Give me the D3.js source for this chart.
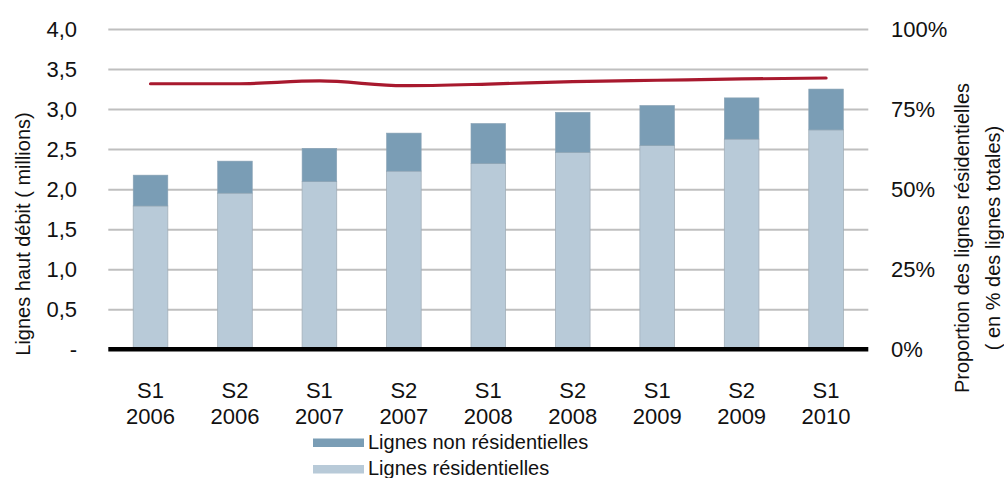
<!DOCTYPE html>
<html>
<head>
<meta charset="utf-8">
<script src="https://cdn.jsdelivr.net/npm/d3@7"></script>
<style>
    body { margin: 0; background: #fff; }
    text { font-family: "Liberation Sans", Arial, sans-serif; fill: #111; }
</style>
</head>
<body>
<script>
// data
let semesters = ["S1", "S2", "S1", "S2", "S1", "S2", "S1", "S2", "S1"];
let years = ["2006", "2006", "2007", "2007", "2008", "2008", "2009", "2009", "2010"];
let residential = [1.79, 1.95, 2.095, 2.225, 2.32, 2.46, 2.545, 2.625, 2.74];
let nonResidential = [0.385, 0.40, 0.415, 0.475, 0.50, 0.50, 0.50, 0.515, 0.51];
let residentialShare = [0.829, 0.829, 0.838, 0.823, 0.828, 0.836, 0.840, 0.844, 0.847];
let leftTicks = [0, 0.5, 1, 1.5, 2, 2.5, 3, 3.5, 4];
let rightTicks = [0, 0.25, 0.5, 0.75, 1];
let legendLabels = ["Lignes non résidentielles", "Lignes résidentielles"];

let colors = {
    light: "#b8cad8",
    dark: "#7a9db5",
    line: "#a8192e",
    grid: "#bfbfbf"
};

let svgWidth = 1004,
    svgHeight = 478,
    plot = { left: 108.3, right: 868.3, top: 29, bottom: 349.3 };

let categories = semesters.map((s, i) => s + " " + years[i]);
let svgContainer;

function init() {
    svgContainer = d3.select("body").append("svg")
        .attr("width", svgWidth)
        .attr("height", svgHeight);

    let xScale = d3.scaleBand().domain(categories)
        .range([plot.left, plot.right])
        .paddingInner(0.59)
        .paddingOuter(0.295);
    let yScale = d3.scaleLinear().domain([0, 4]).range([plot.bottom, plot.top]);
    let yRight = d3.scaleLinear().domain([0, 1]).range([plot.bottom, plot.top]);

    drawGrid(yScale);
    drawBars(xScale, yScale);
    drawShareLine(xScale, yRight);
    drawAxes(xScale, yScale, yRight);
    drawLegend();
}

function drawGrid(yScale) {
    let grid = d3.axisLeft(yScale).tickValues(leftTicks.slice(1))
        .tickSize(-(plot.right - plot.left)).tickFormat("");
    let g = svgContainer.append("g")
        .attr("transform", "translate(" + plot.right + ",0)")
        .call(d3.axisRight(yScale).tickValues(leftTicks.slice(1))
            .tickSize(-(plot.right - plot.left)).tickFormat(""));
    g.select(".domain").remove();
    g.selectAll("line").attr("stroke", colors.grid).attr("stroke-width", 2);
}

function drawBars(xScale, yScale) {
    let stacked = categories.map((c, i) => ({
        c: c,
        res: residential[i],
        total: residential[i] + nonResidential[i]
    }));

    svgContainer.append("g").selectAll("rect")
        .data(stacked).enter().append("rect")
        .attr("x", d => xScale(d.c))
        .attr("width", xScale.bandwidth())
        .attr("y", d => yScale(d.res))
        .attr("height", d => yScale(0) - yScale(d.res))
        .attr("fill", colors.light)
        .attr("stroke", "#a3afb9")
        .attr("stroke-width", 0.8);

    svgContainer.append("g").selectAll("rect")
        .data(stacked).enter().append("rect")
        .attr("x", d => xScale(d.c))
        .attr("width", xScale.bandwidth())
        .attr("y", d => yScale(d.total))
        .attr("height", d => yScale(d.res) - yScale(d.total))
        .attr("fill", colors.dark)
        .attr("stroke", "#8aa2b4")
        .attr("stroke-width", 0.6);
}

function drawShareLine(xScale, yRight) {
    let line = d3.line()
        .x((d, i) => xScale(categories[i]) + xScale.bandwidth() / 2)
        .y(d => yRight(d))
        .curve(d3.curveMonotoneX);

    svgContainer.append("path")
        .datum(residentialShare)
        .attr("d", line)
        .attr("fill", "none")
        .attr("stroke", colors.line)
        .attr("stroke-width", 3.2)
        .attr("stroke-linecap", "round");
}

function drawAxes(xScale, yScale, yRight) {
    // baseline
    svgContainer.append("line")
        .attr("x1", plot.left).attr("x2", plot.right)
        .attr("y1", yScale(0)).attr("y2", yScale(0))
        .attr("stroke", "#000").attr("stroke-width", 4.5);

    let left = svgContainer.append("g")
        .attr("transform", "translate(77,0)")
        .call(d3.axisLeft(yScale).tickValues(leftTicks).tickSize(0)
            .tickFormat(d => d === 0 ? "-" : d3.format(".1f")(d).replace(".", ",")));
    left.select(".domain").remove();
    left.selectAll("text").attr("x", 0).attr("font-size", 22)
        .style("font-family", "Liberation Sans, Arial, sans-serif").attr("fill", "#111");

    let right = svgContainer.append("g")
        .attr("transform", "translate(891,0)")
        .call(d3.axisRight(yRight).tickValues(rightTicks).tickSize(0)
            .tickFormat(d3.format(".0%")));
    right.select(".domain").remove();
    right.selectAll("text").attr("x", 0).attr("font-size", 22)
        .style("font-family", "Liberation Sans, Arial, sans-serif").attr("fill", "#111");

    // two-line category labels
    let xl = svgContainer.append("g").selectAll("text")
        .data(categories).enter().append("text")
        .attr("text-anchor", "middle")
        .attr("font-size", 22)
        .attr("x", d => xScale(d) + xScale.bandwidth() / 2);
    xl.append("tspan").attr("y", 398).text((d, i) => semesters[i])
        .attr("x", d => xScale(d) + xScale.bandwidth() / 2);
    xl.append("tspan").attr("y", 424).text((d, i) => years[i])
        .attr("x", d => xScale(d) + xScale.bandwidth() / 2);

    svgContainer.append("text")
        .attr("transform", "translate(30,234) rotate(-90)")
        .attr("text-anchor", "middle")
        .attr("font-size", 20)
        .text("Lignes haut débit ( millions)");

    svgContainer.append("text")
        .attr("transform", "translate(969,238) rotate(-90)")
        .attr("text-anchor", "middle")
        .attr("font-size", 20)
        .text("Proportion des lignes résidentielles");

    svgContainer.append("text")
        .attr("transform", "translate(1000,238) rotate(-90)")
        .attr("text-anchor", "middle")
        .attr("font-size", 20)
        .text("( en % des lignes totales)");
}

function drawLegend() {
    let legendColors = [colors.dark, colors.light];
    let items = svgContainer.append("g").selectAll("g")
        .data(legendLabels).enter().append("g")
        .attr("transform", (d, i) => "translate(313," + (438.5 + i * 26.5) + ")");
    items.append("rect")
        .attr("width", 51).attr("height", 8.5)
        .attr("fill", (d, i) => legendColors[i]);
    items.append("text")
        .attr("x", 55).attr("y", 10)
        .attr("font-size", 20)
        .attr("fill", "#222")
        .text(d => d);
}

init();
</script>
</body>
</html>
